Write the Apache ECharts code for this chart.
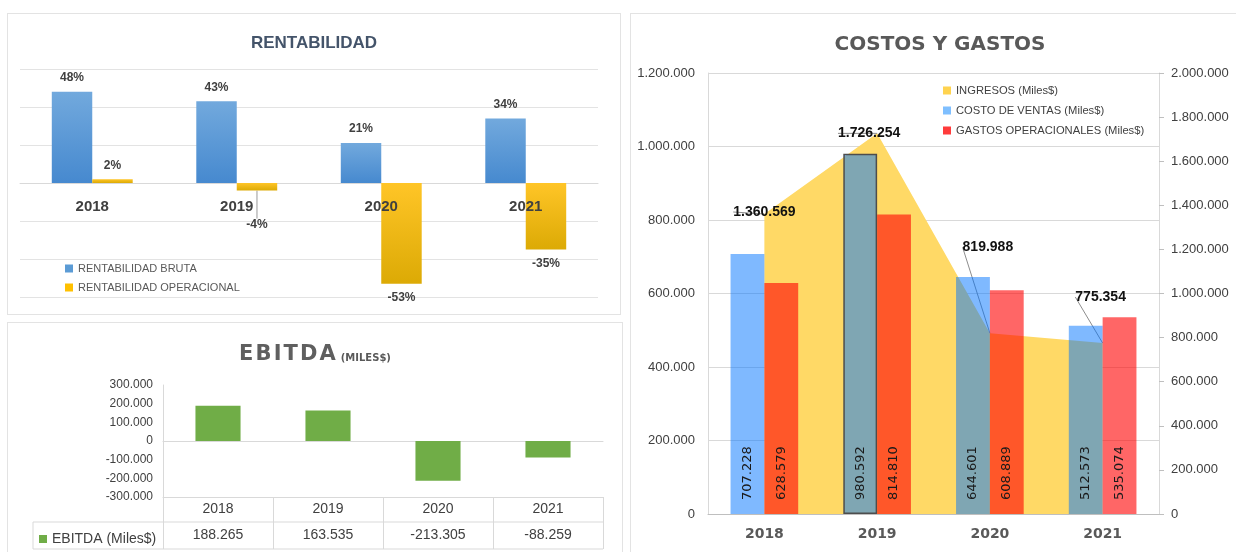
<!DOCTYPE html>
<html>
<head>
<meta charset="utf-8">
<title>Indicadores financieros</title>
<script src="https://cdn.jsdelivr.net/npm/echarts@6/dist/echarts.min.js"></script>
<style>
  html, body { margin: 0; padding: 0; background: #fff; overflow: hidden; }
  body { width: 1236px; height: 552px; position: relative; }
  .panel { position: absolute; border: 1px solid #e3e3e3; box-sizing: border-box; background: #fff; }
  #rentabilidad { left: 7px; top: 13px; width: 614px; height: 302px; }
  #ebitda { left: 7px; top: 322px; width: 616px; height: 245px; }
  #costos { left: 630px; top: 13px; width: 620px; height: 560px; }
</style>
</head>
<body>
<div id="rentabilidad" class="panel"></div>
<div id="ebitda" class="panel"></div>
<div id="costos" class="panel"></div>
<script>
// datos
const years = ['2018', '2019', '2020', '2021']
const rentBruta = [48, 43, 21, 34]
const rentOperacional = [2, -4, -53, -35]
const ebitda = [188265, 163535, -213305, -88259]
const ingresos = [1360569, 1726254, 819988, 775354]
const costoVentas = [707228, 980592, 644601, 512573]
const gastosOperacionales = [628579, 814810, 608889, 535074]

const FONT = "'Liberation Sans', Arial, sans-serif"
const FONT_DV = "'DejaVu Sans', sans-serif"

// 1.360.569
function miles(v) {
  return String(v).replace(/\B(?=(\d{3})+(?!\d))/g, '.')
}

function gradient(top, bottom) {
  return new echarts.graphic.LinearGradient(0, 0, 0, 1, [
    { offset: 0, color: top },
    { offset: 1, color: bottom }
  ], false)
}

// ---------- RENTABILIDAD ----------
const rentChart = echarts.init(document.getElementById('rentabilidad'))
const rentLabel = {
  show: true,
  distance: 8,
  formatter: '{c}%',
  fontSize: 12,
  fontWeight: 'bold',
  color: '#404040'
}
rentChart.setOption({
  textStyle: { fontFamily: FONT },
  title: {
    text: 'RENTABILIDAD',
    left: 'center',
    top: 16,
    textStyle: { fontSize: 17, fontWeight: 'bold', color: '#44546a' }
  },
  legend: {
    orient: 'vertical',
    left: 52,
    top: 244,
    icon: 'rect',
    itemWidth: 8,
    itemHeight: 8,
    itemGap: 8,
    data: [
      { name: 'RENTABILIDAD BRUTA', itemStyle: { color: '#5b9bd5' } },
      { name: 'RENTABILIDAD OPERACIONAL', itemStyle: { color: '#ffc000' } }
    ],
    textStyle: { fontSize: 11, color: '#595959' }
  },
  grid: { left: 12, right: 22, top: 55, bottom: 17, outerBoundsMode: 'none' },
  xAxis: [{
    type: 'category',
    data: years,
    axisLine: { onZero: true, lineStyle: { color: '#d9d9d9' } },
    axisTick: { show: false },
    axisLabel: { show: false }
  }, {
    // etiquetas de años justo debajo de la linea de cero
    type: 'category',
    data: years,
    position: 'bottom',
    offset: -114,
    z: 5,
    axisLine: { show: false, onZero: false },
    axisTick: { show: false },
    axisLabel: { margin: 16, fontSize: 15, fontWeight: 'bold', color: '#404040' }
  }],
  yAxis: {
    type: 'value',
    min: -60,
    max: 60,
    interval: 20,
    axisLabel: { show: false },
    axisLine: { show: false },
    splitLine: { lineStyle: { color: '#e3e3e3' } }
  },
  series: [{
    name: 'RENTABILIDAD BRUTA',
    type: 'bar',
    barWidth: '28%',
    barGap: '0%',
    data: rentBruta.map(v => ({ value: v, label: { position: v >= 0 ? 'top' : 'bottom' } })),
    itemStyle: { color: gradient('#72a9dd', '#4689cf') },
    label: rentLabel
  }, {
    name: 'RENTABILIDAD OPERACIONAL',
    type: 'bar',
    barWidth: '28%',
    data: rentOperacional.map((v, i) => {
      const item = { value: v, label: { position: v >= 0 ? 'top' : 'bottom' } }
      // -4% va desplazado con linea guia
      if (i === 1) item.labelLine = { show: true, lineStyle: { color: '#9a9a9a', width: 1 } }
      return item
    }),
    itemStyle: { color: gradient('#ffc527', '#dcaa05') },
    label: rentLabel,
    labelLayout: p => (p.dataIndex === 1 ? { dy: 20 } : {})
  }]
})

// ---------- EBITDA ----------
const ebitdaChart = echarts.init(document.getElementById('ebitda'))
const lineGray = { stroke: '#d9d9d9', lineWidth: 1 }
ebitdaChart.setOption({
  textStyle: { fontFamily: FONT },
  title: {
    text: '{a|' + 'EBITDA'.split('').join('\u200a') + '} {b|(MILES$)}',
    left: 'center',
    top: 16,
    textStyle: {
      rich: {
        a: { fontFamily: FONT_DV, fontSize: 21, color: '#5f5f5f' },
        b: { fontFamily: FONT_DV, fontSize: 10, fontWeight: 'bold', color: '#595959', padding: [7, 0, 0, 0] }
      }
    }
  },
  legend: {
    left: 26,
    top: 204,
    icon: 'rect',
    itemWidth: 8,
    itemHeight: 8,
    textStyle: { fontSize: 14, color: '#404040' }
  },
  grid: { left: 155, right: 19, top: 62, bottom: 69, outerBoundsMode: 'none' },
  xAxis: [{
    type: 'category',
    data: years,
    axisLine: { onZero: true, lineStyle: { color: '#d9d9d9' } },
    axisTick: { show: false },
    axisLabel: { show: false }
  }, {
    // tabla de datos bajo el grafico
    type: 'category',
    data: years,
    position: 'bottom',
    axisLine: { onZero: false, lineStyle: { color: '#d9d9d9' } },
    axisTick: { show: true, interval: 0, length: 52, lineStyle: { color: '#d9d9d9' } },
    axisLabel: {
      margin: 0,
      interval: 0,
      formatter: (v, i) => '{y|' + v + '}\n{v|' + miles(ebitda[i]) + '}',
      rich: {
        y: { fontSize: 14, lineHeight: 24, color: '#404040' },
        v: { fontSize: 14, lineHeight: 28, color: '#404040' }
      }
    }
  }],
  yAxis: {
    type: 'value',
    min: -300000,
    max: 300000,
    interval: 100000,
    axisLine: { show: true, lineStyle: { color: '#d9d9d9' } },
    axisLabel: { margin: 10, fontSize: 12, color: '#404040', formatter: miles },
    splitLine: { show: false }
  },
  graphic: [
    { type: 'line', shape: { x1: 25, y1: 199, x2: 595, y2: 199 }, style: lineGray },
    { type: 'line', shape: { x1: 25, y1: 226, x2: 595, y2: 226 }, style: lineGray },
    { type: 'line', shape: { x1: 25, y1: 199, x2: 25, y2: 226 }, style: lineGray }
  ],
  series: [{
    name: 'EBITDA (Miles$)',
    type: 'bar',
    barWidth: '41%',
    data: ebitda,
    itemStyle: { color: '#70ad47' }
  }]
})

// ---------- COSTOS Y GASTOS ----------
const costosChart = echarts.init(document.getElementById('costos'))
const labelDx = [0, -8, -2, -2]
const labelDy = [-2, 0, -86, -46]
const barLabel = {
  show: true,
  position: 'insideBottom',
  rotate: 90,
  align: 'left',
  verticalAlign: 'middle',
  distance: 14,
  fontFamily: FONT_DV,
  fontSize: 13,
  color: '#1a1a1a',
  formatter: p => miles(p.value)
}
costosChart.setOption({
  textStyle: { fontFamily: FONT },
  title: {
    text: 'COSTOS Y GASTOS',
    left: 'center',
    top: 16,
    textStyle: { fontFamily: FONT_DV, fontSize: 20, fontWeight: 'bold', color: '#595959' }
  },
  legend: {
    orient: 'vertical',
    left: 307,
    top: 66,
    icon: 'rect',
    itemWidth: 8,
    itemHeight: 8,
    itemGap: 9,
    data: [
      { name: 'INGRESOS (Miles$)', itemStyle: { color: '#ffd34f' } },
      { name: 'COSTO DE VENTAS (Miles$)', itemStyle: { color: '#7fbfff' } },
      { name: 'GASTOS OPERACIONALES (Miles$)', itemStyle: { color: '#ff3b3b' } }
    ],
    textStyle: { fontSize: 11.2, color: '#404040' }
  },
  grid: { left: 77, right: 90, top: 59, bottom: 58, outerBoundsMode: 'none' },
  xAxis: {
    type: 'category',
    data: years,
    axisLine: { onZero: true, lineStyle: { color: '#bfbfbf' } },
    axisTick: { show: false },
    axisLabel: { margin: 13, fontFamily: FONT_DV, fontSize: 14, fontWeight: 'bold', color: '#595959' }
  },
  yAxis: [{
    type: 'value',
    min: 0,
    max: 1200000,
    interval: 200000,
    axisLine: { show: true, lineStyle: { color: '#d9d9d9' } },
    axisLabel: { margin: 13, fontSize: 13, color: '#404040', formatter: miles },
    splitLine: { lineStyle: { color: '#d9d9d9' } }
  }, {
    type: 'value',
    min: 0,
    max: 2000000,
    interval: 200000,
    position: 'right',
    axisLine: { show: true, lineStyle: { color: '#d9d9d9' } },
    axisTick: { show: true, length: 5, lineStyle: { color: '#bfbfbf' } },
    axisLabel: { margin: 12, fontSize: 13, color: '#404040', formatter: miles },
    splitLine: { show: false }
  }],
  series: [{
    name: 'INGRESOS (Miles$)',
    type: 'line',
    z: 1,
    yAxisIndex: 1,
    data: ingresos,
    symbol: 'circle',
    symbolSize: 0,
    lineStyle: { width: 0 },
    itemStyle: { color: '#ffd966' },
    areaStyle: { color: '#ffd966', opacity: 1 },
    label: {
      show: true,
      position: 'inside',
      formatter: p => miles(p.value),
      fontSize: 14,
      fontWeight: 'bold',
      color: '#111'
    },
    labelLayout: p => ({ dx: labelDx[p.dataIndex], dy: labelDy[p.dataIndex] }),
    labelLine: { show: true, lineStyle: { color: '#8c8c8c', width: 1 } }
  }, {
    name: 'COSTO DE VENTAS (Miles$)',
    type: 'bar',
    z: 3,
    barWidth: '30%',
    barGap: '0%',
    data: costoVentas.map((v, i) => (i === 1 ? { value: v, itemStyle: { borderColor: '#4d4d4d', borderWidth: 1.5 } } : v)),
    itemStyle: { color: 'rgba(0, 115, 255, 0.5)' },
    label: barLabel
  }, {
    name: 'GASTOS OPERACIONALES (Miles$)',
    type: 'bar',
    z: 3,
    barWidth: '30%',
    data: gastosOperacionales,
    itemStyle: { color: 'rgba(255, 0, 0, 0.6)' },
    label: barLabel
  }]
})
</script>
</body>
</html>
